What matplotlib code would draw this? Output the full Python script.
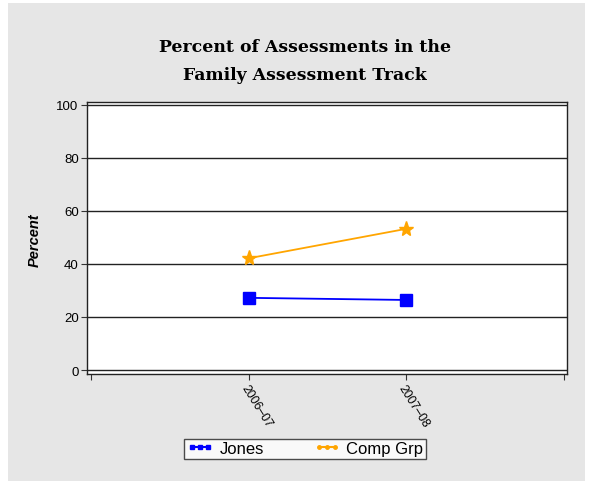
import matplotlib
matplotlib.use("Agg")
import matplotlib.pyplot as plt
from matplotlib.lines import Line2D
from matplotlib.patches import Rectangle

categories = ["2006\u201307", "2007\u201308"]
jones = [27.2, 26.4]
comp_grp = [42.1, 53.2]
yticks = [0, 20, 40, 60, 80, 100]

BG = "#e6e6e6"
fig = plt.figure(figsize=(5.95, 4.89), dpi=100, facecolor="white")
fig.patches.append(Rectangle((8/595, 1-482/489), (585-8)/595, (482-4)/489,
                             transform=fig.transFigure, facecolor=BG,
                             edgecolor="none", zorder=-10))

ax = fig.add_axes([87/595, 1-375/489, 480/595, 272/489])
ax.set_facecolor("white")

x = [1, 2]
ax.plot(x, jones, color="#0000ff", lw=1.3, marker="s", markersize=9, zorder=3)
ax.plot(x, comp_grp, color="#ffa500", lw=1.3, marker="*", markersize=11, zorder=3)

ax.set_ylim(-1.5, 101)
ax.set_xlim(-0.025, 3.02)
ax.set_yticks(yticks)
ax.set_yticklabels([str(v) for v in yticks], fontsize=9.5, family="Liberation Sans")
ax.set_xticks([0, 1, 2, 3])
ax.set_xticklabels([""] + categories + [""], fontsize=8.8, family="Liberation Sans",
                   rotation=-58, ha="left", va="top", rotation_mode="anchor")
ax.tick_params(axis="both", length=4, width=0.8, color="#333333")
ax.tick_params(axis="x", pad=2)
ax.tick_params(axis="y", pad=2)

for v in yticks:
    ax.axhline(v, color="#222222", lw=1.0, zorder=1)
for s in ax.spines.values():
    s.set_color("#222222")
    s.set_linewidth(1.0)

ax.set_ylabel("Percent", fontsize=10.5, fontweight="heavy", fontstyle="italic",
              family="Liberation Sans")
ax.yaxis.set_label_coords(-0.095, 0.495)

fig.text(305/595, 1-48/489, "Percent of Assessments in the", ha="center", va="center",
         fontsize=12.4, fontweight="bold", family="DejaVu Serif")
fig.text(305/595, 1-75/489, "Family Assessment Track", ha="center", va="center",
         fontsize=12.4, fontweight="bold", family="DejaVu Serif")

handles = [Line2D([0], [0], color="#0000ff", lw=1.5, marker="s", markersize=3.5),
           Line2D([0], [0], color="#ffa500", lw=1.5, marker="o", markersize=2.5)]
leg = fig.legend(handles, ["Jones", "Comp Grp"], loc="center",
                 bbox_to_anchor=(305/595, 1-449.5/489), ncol=2, numpoints=3,
                 frameon=True, fancybox=False,
                 prop={"family": "Liberation Sans", "size": 12},
                 handlelength=1.6, handletextpad=0.36, columnspacing=3.0,
                 borderpad=0.15, borderaxespad=0)
leg.get_frame().set_edgecolor("#222222")
leg.get_frame().set_linewidth(1.0)

fig.savefig("out.png", dpi=100, facecolor=fig.get_facecolor())
